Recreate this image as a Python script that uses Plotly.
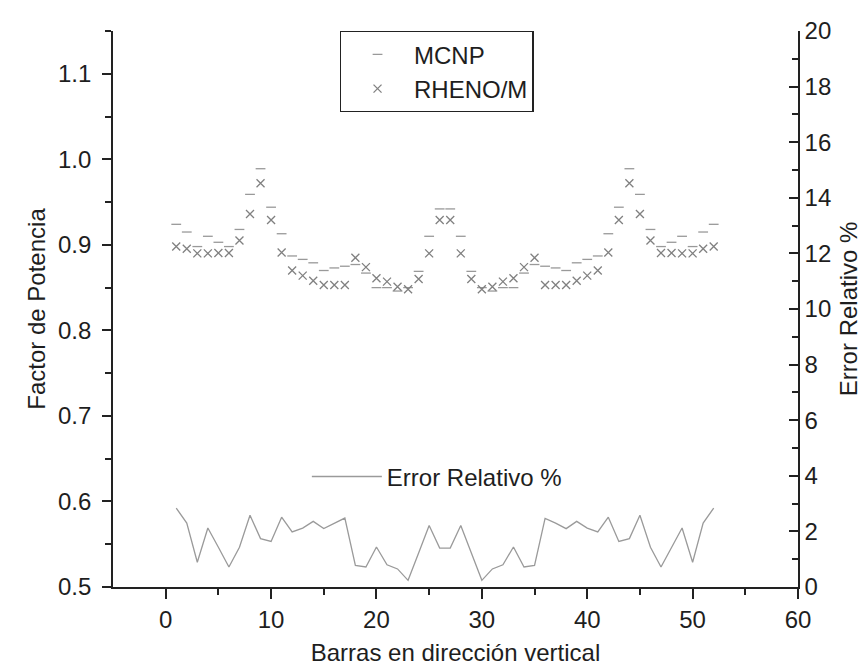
import plotly.graph_objects as go

barras = list(range(1, 53))

mcnp = [0.924, 0.915, 0.898, 0.910, 0.903, 0.898, 0.918, 0.959, 0.989, 0.944,
        0.913, 0.887, 0.883, 0.879, 0.870, 0.873, 0.875, 0.877, 0.867, 0.850,
        0.850, 0.846, 0.850, 0.869, 0.910, 0.942,
        0.942, 0.910, 0.869, 0.850, 0.846, 0.850, 0.850, 0.867, 0.877, 0.875,
        0.873, 0.870, 0.879, 0.883, 0.887, 0.913, 0.944, 0.989, 0.959, 0.918,
        0.898, 0.903, 0.910, 0.898, 0.915, 0.924]

rheno = [0.898, 0.8955, 0.890, 0.890, 0.8905, 0.8905, 0.905, 0.936, 0.972, 0.929,
         0.891, 0.870, 0.864, 0.858, 0.853, 0.853, 0.853, 0.885, 0.874, 0.861,
         0.857, 0.851, 0.848, 0.860, 0.890, 0.929,
         0.929, 0.890, 0.860, 0.848, 0.851, 0.857, 0.861, 0.874, 0.885, 0.853,
         0.853, 0.853, 0.858, 0.864, 0.870, 0.891, 0.929, 0.972, 0.936, 0.905,
         0.8905, 0.8905, 0.890, 0.890, 0.8955, 0.898]

error_rel = [2.84, 2.30, 0.89, 2.12, 1.43, 0.72, 1.43, 2.58, 1.74, 1.64,
             2.51, 1.98, 2.12, 2.36, 2.10, 2.30, 2.48, 0.78, 0.72, 1.44,
             0.80, 0.65, 0.24, 1.22, 2.21, 1.40, 1.40, 2.21, 1.22, 0.24,
             0.65, 0.80, 1.44, 0.72, 0.78, 2.47, 2.30, 2.10, 2.36, 2.12,
             1.98, 2.51, 1.64, 1.74, 2.58, 1.43, 0.72, 1.43, 2.12, 0.89,
             2.30, 2.84]

FONT = "Arial, Liberation Sans, sans-serif"
TXT = "#1e1e1e"
FS = 24

fig = go.Figure()
fig.add_trace(go.Scatter(
    x=barras, y=mcnp, mode="markers", name="MCNP",
    marker=dict(symbol="line-ew", size=7, color="#999999",
                line=dict(color="#999999", width=1.3)),
    legend="legend", legendgroup="g1"))
fig.add_trace(go.Scatter(
    x=barras, y=rheno, mode="markers", name="RHENO/M",
    marker=dict(symbol="x-thin", size=8, color="#808080",
                line=dict(color="#808080", width=1.3)),
    legend="legend", legendgroup="g2"))
fig.add_trace(go.Scatter(
    x=barras, y=error_rel, mode="lines", name="Error Relativo %",
    line=dict(color="#9a9a9a", width=1.3), yaxis="y2",
    legend="legend2"))

axis_common = dict(showline=True, linecolor="#222", linewidth=1.6,
                   showgrid=False, zeroline=False, automargin=False,
                   tickfont=dict(family=FONT, size=FS, color=TXT),
                   tickcolor="#222", tickwidth=1.6)

fig.update_layout(
    width=867, height=670, autosize=False,
    paper_bgcolor="white", plot_bgcolor="white",
    margin=dict(l=105, r=77, t=23, b=91),
    font=dict(family=FONT, size=FS, color=TXT),
    xaxis=dict(range=[-5, 60], tickmode="array",
               tickvals=[0, 10, 20, 30, 40, 50, 60],
               ticks="outside", ticklen=10,
               minor=dict(tickvals=[5, 15, 25, 35, 45, 55], ticks="outside",
                          ticklen=6, tickcolor="#222", tickwidth=1.6),
               title=dict(text="Barras en dirección vertical",
                          font=dict(family=FONT, size=FS, color=TXT),
                          standoff=13),
               **axis_common),
    yaxis=dict(range=[0.5, 1.15], tickmode="array",
               tickvals=[0.5, 0.6, 0.7, 0.8, 0.9, 1.0, 1.1],
               ticktext=["0.5", "0.6", "0.7", "0.8", "0.9", "1.0", "1.1"],
               ticks="outside", ticklen=9, ticklabelstandoff=6,
               minor=dict(tickvals=[0.55, 0.65, 0.75, 0.85, 0.95, 1.05, 1.15],
                          ticks="outside", ticklen=6, tickcolor="#222",
                          tickwidth=1.6),
               title=dict(text="Factor de Potencia",
                          font=dict(family=FONT, size=FS, color=TXT),
                          standoff=6),
               **axis_common),
    yaxis2=dict(range=[0, 20], overlaying="y", side="right",
                tickmode="array", tickvals=list(range(0, 21, 2)),
                ticks="inside", ticklen=9,
                minor=dict(tickvals=list(range(1, 20, 2)), ticks="inside",
                           ticklen=6, tickcolor="#222", tickwidth=1.6),
                title=dict(text="Error Relativo %",
                           font=dict(family=FONT, size=FS, color=TXT),
                           standoff=10),
                **axis_common),
    legend=dict(x=0.331, y=1.0, xanchor="left", yanchor="top",
                bgcolor="white", bordercolor="#222", borderwidth=1.3,
                font=dict(family=FONT, size=24, color=TXT),
                itemwidth=63, tracegroupgap=0, traceorder="grouped"),
    legend2=dict(x=0.283, y=0.198, xanchor="left", yanchor="middle",
                 bgcolor="rgba(0,0,0,0)", borderwidth=0,
                 font=dict(family=FONT, size=24, color=TXT),
                 itemwidth=70),
    showlegend=True,
)

fig.write_html("out.html")
